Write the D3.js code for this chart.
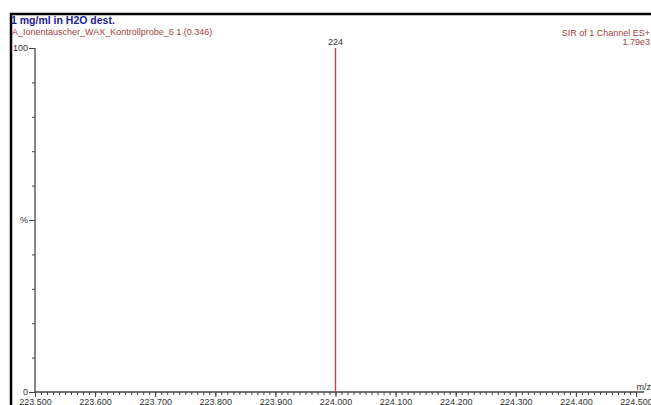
<!DOCTYPE html>
<html>
<head>
<meta charset="utf-8">
<script src="https://cdn.jsdelivr.net/npm/d3@7"></script>
<style>
  body { margin: 0; background: #fff; }
  svg { display: block; font-family: "Liberation Sans", Arial, sans-serif; }
  .axis path, .axis line { stroke: #444; }
  .axis text { fill: #333; font-size: 9px; }
</style>
</head>
<body>
<div id="chart"></div>
<script>
// spectrum data
const mzValues = [224.000];
const intensities = [100];
const peakLabels = ["224"];

const xTicks = [223.5, 223.6, 223.7, 223.8, 223.9, 224.0, 224.1, 224.2, 224.3, 224.4, 224.5];
const yTicks = [0, 10, 20, 30, 40, 50, 60, 70, 80, 90, 100];

const titleText = "1 mg/ml in H2O dest.";
const sampleText = "A_Ionentauscher_WAX_Kontrollprobe_6 1 (0.346)";
const channelText = "SIR of 1 Channel ES+";
const maxText = "1.79e3";

const width = 651, height = 405;

const svg = d3.select("#chart")
    .append("svg")
    .attr("width", width)
    .attr("height", height);

svg.append("rect").attr("width", width).attr("height", height).attr("fill", "#fff");

const x = d3.scaleLinear().domain([223.5, 224.5]).range([35, 636]);
const y = d3.scaleLinear().domain([0, 100]).range([392, 48]);

// frame
svg.append("line")
    .attr("x1", 10).attr("x2", width)
    .attr("y1", 14).attr("y2", 14)
    .attr("stroke", "#000").attr("stroke-width", 2.5);
svg.append("line")
    .attr("x1", 11).attr("x2", 11)
    .attr("y1", 13).attr("y2", height)
    .attr("stroke", "#000").attr("stroke-width", 2.5);

// header texts
svg.append("text")
    .attr("x", 11).attr("y", 24)
    .attr("fill", "#1d1d8f")
    .attr("font-weight", "bold")
    .attr("font-size", "10.5px")
    .text(titleText);
svg.append("text")
    .attr("x", 12).attr("y", 35)
    .attr("fill", "#a3433d")
    .attr("font-size", "9px")
    .text(sampleText);
svg.append("text")
    .attr("x", 650).attr("y", 36)
    .attr("text-anchor", "end")
    .attr("fill", "#a3433d")
    .attr("font-size", "9px")
    .text(channelText);
svg.append("text")
    .attr("x", 650).attr("y", 45)
    .attr("text-anchor", "end")
    .attr("fill", "#a3433d")
    .attr("font-size", "9px")
    .text(maxText);

// x axis: minor ticks every 0.01, labelled ticks every 0.1
const minorX = d3.range(0, 101).map(i => 223.5 + i * 0.01);
svg.append("g")
    .attr("class", "axis")
    .attr("transform", "translate(0," + y(0) + ")")
    .call(d3.axisBottom(x).tickValues(minorX).tickSize(3).tickFormat(""))
    .call(g => g.select(".domain").remove());
svg.append("g")
    .attr("class", "axis")
    .attr("transform", "translate(0," + y(0) + ")")
    .call(d3.axisBottom(x).tickValues(xTicks).tickSize(5).tickPadding(2).tickFormat(d3.format(".3f")))
    .call(g => g.select(".domain").remove());
svg.append("line")
    .attr("x1", x(223.5)).attr("x2", x(224.5) + 8)
    .attr("y1", y(0)).attr("y2", y(0))
    .attr("stroke", "#444").attr("stroke-width", 1.3);
svg.append("text")
    .attr("x", 651).attr("y", y(0) - 2)
    .attr("text-anchor", "end")
    .attr("fill", "#333")
    .attr("font-size", "9px")
    .text("m/z");

// y axis
svg.append("g")
    .attr("class", "axis")
    .attr("transform", "translate(" + x(223.5) + ",0)")
    .call(d3.axisLeft(y).tickValues(yTicks).tickSize(3).tickFormat(""))
    .call(g => g.select(".domain").remove());
svg.append("g")
    .attr("class", "axis")
    .attr("transform", "translate(" + x(223.5) + ",0)")
    .call(d3.axisLeft(y).tickValues([0, 50, 100]).tickSize(6).tickPadding(1)
        .tickFormat(d => d === 50 ? "%" : d))
    .call(g => g.select(".domain").remove());
svg.append("line")
    .attr("x1", x(223.5)).attr("x2", x(223.5))
    .attr("y1", y(100)).attr("y2", y(0))
    .attr("stroke", "#444").attr("stroke-width", 1.3);

// peaks
svg.selectAll(".peak")
    .data(mzValues)
    .enter()
    .append("line")
    .attr("class", "peak")
    .attr("x1", d => x(d)).attr("x2", d => x(d))
    .attr("y1", (d, i) => y(intensities[i])).attr("y2", y(0))
    .attr("stroke", "#d23c3c").attr("stroke-width", 1.4);
svg.selectAll(".peak-label")
    .data(mzValues)
    .enter()
    .append("text")
    .attr("class", "peak-label")
    .attr("x", d => x(d))
    .attr("y", (d, i) => y(intensities[i]) - 3)
    .attr("text-anchor", "middle")
    .attr("fill", "#333")
    .attr("font-size", "9px")
    .text((d, i) => peakLabels[i]);
</script>
</body>
</html>
